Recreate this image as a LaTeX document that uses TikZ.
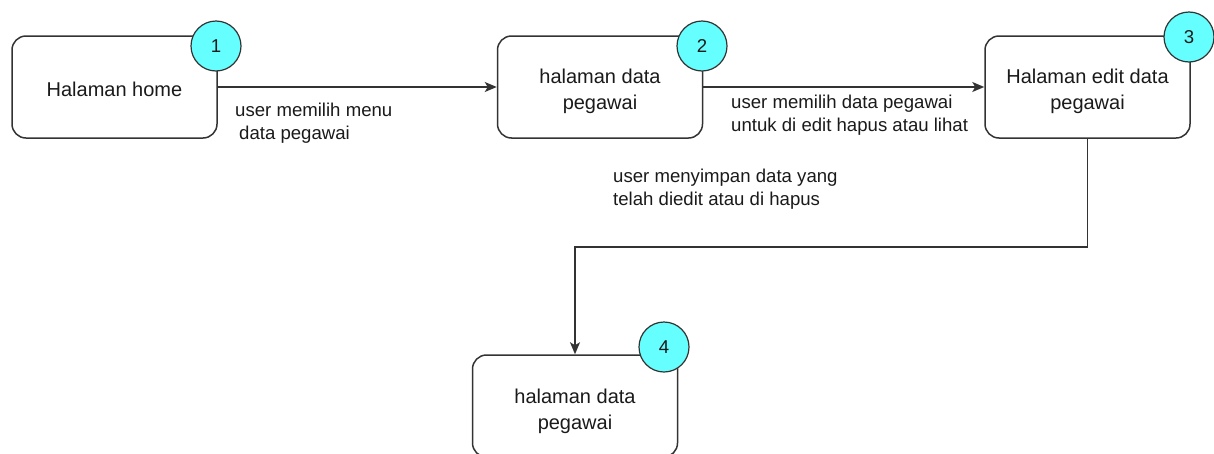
\documentclass[tikz,border=0pt]{standalone}
\usepackage{fontspec}
\setmainfont{Liberation Sans}
\usetikzlibrary{arrows.meta}
\definecolor{ln}{HTML}{333333}
\definecolor{cy}{HTML}{66FFFF}
\definecolor{tx}{HTML}{1A1A1A}
\newcommand\tup[1]{\rule{0pt}{#1}}
\begin{document}
\begin{tikzpicture}[x=1pt,y=-1pt,
  box/.style={draw=ln, line width=1.5pt, rounded corners=14pt, minimum width=205pt,
    minimum height=102pt, inner sep=0pt, align=center, text=tx,
    font=\fontsize{20}{26}\selectfont},
  num/.style={circle, draw=ln, line width=1.2pt, fill=cy, minimum size=50pt,
    inner sep=0pt, text=tx, font=\fontsize{18.6}{22}\selectfont},
  lbl/.style={anchor=base west, align=left, inner sep=0pt, text=tx,
    font=\fontsize{18.6}{23}\selectfont},
  arr/.style={draw=ln, line width=1.5pt, -{Stealth[length=12pt,width=10pt,inset=3pt]}}]
\useasboundingbox (0,0) rectangle (1214,453);
\node[box] (b1) at (114.5,87) {\tup{19pt}Halaman home};
\node[box] (b2) at (600,87) {\tup{24pt}halaman data\\pegawai};
\node[box] (b3) at (1087.5,87) {\tup{24pt}Halaman edit data\\pegawai};
\node[box] (b4) at (575,406) {\tup{26pt}halaman data\\pegawai};
\node[num] (n1) at (216,46) {1};
\node[num] (n2) at (702,46) {2};
\node[num] (n3) at (1189,37) {3};
\node[num] (n4) at (664,347) {4};
\coordinate (m) at (1087.5,247);
\draw[arr] (b1.east) -- (b2.west);
\draw[arr] (b2.east) -- (b3.west);
\draw[arr] (b3.south) -- (m) -| (b4.north);
\node[lbl] (l1) at (235,139) {user memilih menu\\\hspace{4pt}data pegawai};
\node[lbl] (l2) at (731,131) {user memilih data pegawai\\untuk di edit hapus atau lihat};
\node[lbl] (l3) at (613,205) {user menyimpan data yang\\telah diedit atau di hapus};
\end{tikzpicture}
\end{document}
